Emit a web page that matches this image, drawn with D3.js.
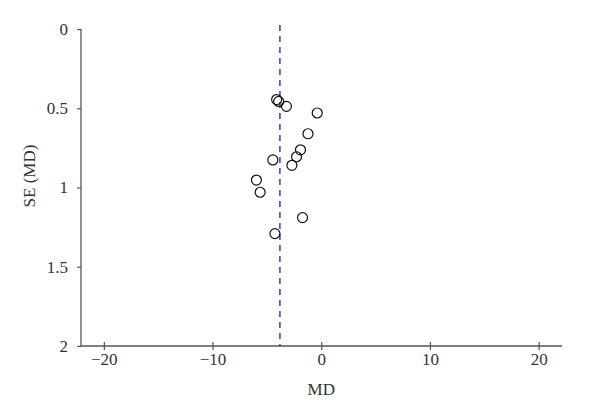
<!DOCTYPE html>
<html><head><meta charset="utf-8">
<script src="https://cdn.jsdelivr.net/npm/d3@7"></script>
<style>body{margin:0;background:#fff}svg{display:block}</style>
</head><body>
<script>
const md = [-4.10, -3.91, -3.20, -0.37, -1.22, -1.91, -2.27, -4.45, -2.70, -5.96, -5.62, -1.72, -4.26];
const se = [0.445, 0.457, 0.488, 0.530, 0.661, 0.762, 0.806, 0.826, 0.860, 0.953, 1.030, 1.190, 1.291];
const pooledMD = -3.80;
const xTicks = [-20, -10, 0, 10, 20];
const yTicks = [0, 0.5, 1, 1.5, 2];
const xLabel = "MD", yLabel = "SE (MD)";

const W = 600, H = 416;
const svg = d3.select("body").append("svg").attr("width", W).attr("height", H);
const x = d3.scaleLinear().domain([-22.1, 22.15]).range([81, 562]);
const y = d3.scaleLinear().domain([0, 2]).range([29, 346]);
const font = "'Liberation Serif', 'Times New Roman', serif";
const fs = "17px";
const axisCol = "#555";

const gx = svg.append("g").attr("transform", `translate(0,${y(2)})`)
  .call(d3.axisBottom(x).tickValues(xTicks).tickSize(4).tickPadding(3).tickFormat(d => d < 0 ? "\u2212" + Math.abs(d) : String(d)));
gx.selectAll(".tick line").attr("y1", -4).attr("y2", 4);
const gy = svg.append("g").attr("transform", `translate(${x.range()[0]},0)`)
  .call(d3.axisLeft(y).tickValues(yTicks).tickSize(4).tickPadding(9).tickFormat(d => String(d)));
[gx, gy].forEach(g => {
  g.attr("font-family", null).attr("font-size", null);
  g.select(".domain").attr("stroke", axisCol).attr("stroke-width", 1.3);
  g.selectAll(".tick line").attr("stroke", axisCol).attr("stroke-width", 1.2);
  g.selectAll("text").attr("fill", "#333").style("font-family", font).style("font-size", fs);
});
gx.select(".domain").attr("d", `M${x.range()[0]},0H${x.range()[1]}`);
gy.select(".domain").attr("d", `M0,${y.range()[0]}V${y.range()[1]}`);

svg.append("line")
  .attr("x1", x(pooledMD)).attr("x2", x(pooledMD))
  .attr("y1", y(0) - 4).attr("y2", y(2))
  .attr("stroke", "#1e1eaa").attr("stroke-width", 1.3).attr("stroke-dasharray", "6,5");

svg.append("g").selectAll("circle").data(md.map((m, i) => [m, se[i]])).join("circle")
  .attr("cx", d => x(d[0])).attr("cy", d => y(d[1])).attr("r", 5)
  .attr("fill", "none").attr("stroke", "#111").attr("stroke-width", 1.2);

svg.append("text").attr("x", x(0)).attr("y", 395).attr("text-anchor", "middle")
  .attr("fill", "#333").style("font-family", font).style("font-size", fs).text(xLabel);
svg.append("text").attr("transform", `translate(35,176) rotate(-90)`).attr("text-anchor", "middle")
  .attr("fill", "#333").style("font-family", font).style("font-size", fs).text(yLabel);
</script>
</body></html>
